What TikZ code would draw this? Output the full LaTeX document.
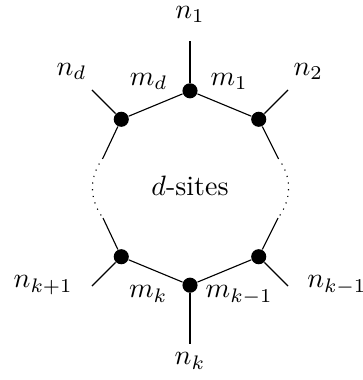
\documentclass[tikz,border=0pt]{standalone}
\usepackage{amsmath,amssymb}
\usepackage{tikz}
\usetikzlibrary{positioning}

\begin{document}
\begin{tikzpicture}[site/.style={circle, fill=black, inner sep=0pt, minimum size=5.4pt},
                    lbl/.style={inner sep=0pt}]
    \useasboundingbox (-2.385,-2.41) rectangle (2.159,2.36);

    % Sites on the ring
    \foreach \ang/\nm in {90/s1, 45/s2, 135/sd, 270/sk, 315/skm, 225/skp} {
        \node[site] (\nm) at (\ang:1.22) {};
    }

    % Ring edges
    \draw (sd) -- (s1) -- (s2);
    \draw (skp) -- (sk) -- (skm);

    % Open ends of the ring
    \coordinate (al) at (-1.092,0.377);
    \coordinate (bl) at (-1.092,-0.377);
    \coordinate (ar) at (1.105,0.377);
    \coordinate (br) at (1.105,-0.377);
    \draw (sd) -- (al);
    \draw (skp) -- (bl);
    \draw (s2) -- (ar);
    \draw (skm) -- (br);
    \draw[dotted] (al) to[bend right=37] (bl);
    \draw[dotted] (ar) to[bend left=37] (br);

    % External legs
    \coordinate (e1) at (90:1.845);
    \coordinate (e2) at (45:1.74);
    \coordinate (ed) at (135:1.74);
    \coordinate (ek) at (270:1.96);
    \coordinate (ekm) at (315:1.74);
    \coordinate (ekp) at (225:1.74);
    \foreach \nm in {1, 2, d, k, km, kp} {
        \draw (s\nm) -- (e\nm);
    }

    % Leg labels
    \node[lbl, anchor=base] (n1) at (0,2.13) {$n_1$};
    \node[lbl, anchor=base] (nk) at (0,-2.22) {$n_k$};
    \node[lbl, anchor=base east] (nd) at (-1.293,1.418) {$n_d$};
    \node[lbl, anchor=base west] (n2) at (1.293,1.418) {$n_2$};
    \node[lbl, anchor=base west] (nkp) at (-2.22,-1.255) {$n_{k+1}$};
    \node[lbl, anchor=base west] (nkm) at (1.465,-1.255) {$n_{k-1}$};

    % Site labels
    \node[lbl, anchor=base east] (md) at (-0.276,1.29) {$m_d$};
    \node[lbl, anchor=base west] (m1) at (0.251,1.29) {$m_1$};
    \node[lbl, anchor=base east] (mk) at (-0.276,-1.38) {$m_k$};
    \node[lbl, anchor=base west] (mkm) at (0.19,-1.38) {$m_{k-1}$};

    % Centre
    \node[lbl, anchor=base] (ctr) at (0,-0.09) {$d$-sites};
\end{tikzpicture}
\end{document}
